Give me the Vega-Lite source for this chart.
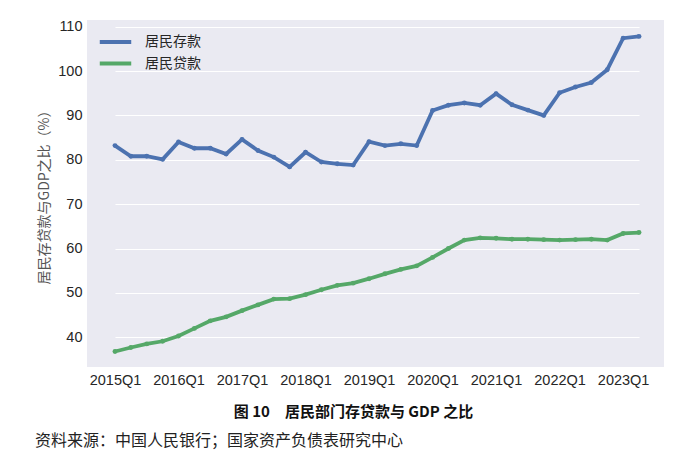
{
  "$schema": "https://vega.github.io/schema/vega-lite/v6.json",
  "width": 577,
  "height": 347,
  "autosize": "none",
  "padding": {"left": 87, "top": 20, "right": 36, "bottom": 104},
  "background": "white",
  "config": {
    "view": {"fill": "#eaeaf2", "stroke": null},
    "font": "Liberation Sans",
    "axis": {"gridColor": "white", "gridWidth": 1.2, "gridOpacity": 1, "domain": false, "ticks": false, "labelFontSize": 14.5, "labelColor": "#262626", "labelFont": "Liberation Sans"}
  },
  "title": {
    "text": "资料来源：中国人民银行；国家资产负债表研究中心",
    "orient": "bottom",
    "anchor": "start",
    "frame": "group",
    "dx": -52,
    "offset": 14,
    "font": "Noto Sans CJK SC",
    "fontSize": 16,
    "fontWeight": "normal",
    "color": "#222222"
  },
  "data": {
    "values": [
      {"q": "2015Q1", "s": "居民存款", "v": 83.2}, {"q": "2015Q2", "s": "居民存款", "v": 80.8}, {"q": "2015Q3", "s": "居民存款", "v": 80.8}, {"q": "2015Q4", "s": "居民存款", "v": 80.1},
      {"q": "2016Q1", "s": "居民存款", "v": 84.0}, {"q": "2016Q2", "s": "居民存款", "v": 82.6}, {"q": "2016Q3", "s": "居民存款", "v": 82.6}, {"q": "2016Q4", "s": "居民存款", "v": 81.3},
      {"q": "2017Q1", "s": "居民存款", "v": 84.6}, {"q": "2017Q2", "s": "居民存款", "v": 82.1}, {"q": "2017Q3", "s": "居民存款", "v": 80.6}, {"q": "2017Q4", "s": "居民存款", "v": 78.4},
      {"q": "2018Q1", "s": "居民存款", "v": 81.7}, {"q": "2018Q2", "s": "居民存款", "v": 79.5}, {"q": "2018Q3", "s": "居民存款", "v": 79.1}, {"q": "2018Q4", "s": "居民存款", "v": 78.8},
      {"q": "2019Q1", "s": "居民存款", "v": 84.1}, {"q": "2019Q2", "s": "居民存款", "v": 83.2}, {"q": "2019Q3", "s": "居民存款", "v": 83.6}, {"q": "2019Q4", "s": "居民存款", "v": 83.2},
      {"q": "2020Q1", "s": "居民存款", "v": 91.1}, {"q": "2020Q2", "s": "居民存款", "v": 92.3}, {"q": "2020Q3", "s": "居民存款", "v": 92.8}, {"q": "2020Q4", "s": "居民存款", "v": 92.3},
      {"q": "2021Q1", "s": "居民存款", "v": 94.9}, {"q": "2021Q2", "s": "居民存款", "v": 92.4}, {"q": "2021Q3", "s": "居民存款", "v": 91.2}, {"q": "2021Q4", "s": "居民存款", "v": 90.0},
      {"q": "2022Q1", "s": "居民存款", "v": 95.1}, {"q": "2022Q2", "s": "居民存款", "v": 96.4}, {"q": "2022Q3", "s": "居民存款", "v": 97.4}, {"q": "2022Q4", "s": "居民存款", "v": 100.3},
      {"q": "2023Q1", "s": "居民存款", "v": 107.4}, {"q": "2023Q2", "s": "居民存款", "v": 107.8},
      {"q": "2015Q1", "s": "居民贷款", "v": 36.8}, {"q": "2015Q2", "s": "居民贷款", "v": 37.7}, {"q": "2015Q3", "s": "居民贷款", "v": 38.5}, {"q": "2015Q4", "s": "居民贷款", "v": 39.1},
      {"q": "2016Q1", "s": "居民贷款", "v": 40.3}, {"q": "2016Q2", "s": "居民贷款", "v": 42.0}, {"q": "2016Q3", "s": "居民贷款", "v": 43.7}, {"q": "2016Q4", "s": "居民贷款", "v": 44.6},
      {"q": "2017Q1", "s": "居民贷款", "v": 46.0}, {"q": "2017Q2", "s": "居民贷款", "v": 47.3}, {"q": "2017Q3", "s": "居民贷款", "v": 48.6}, {"q": "2017Q4", "s": "居民贷款", "v": 48.7},
      {"q": "2018Q1", "s": "居民贷款", "v": 49.6}, {"q": "2018Q2", "s": "居民贷款", "v": 50.7}, {"q": "2018Q3", "s": "居民贷款", "v": 51.7}, {"q": "2018Q4", "s": "居民贷款", "v": 52.2},
      {"q": "2019Q1", "s": "居民贷款", "v": 53.2}, {"q": "2019Q2", "s": "居民贷款", "v": 54.3}, {"q": "2019Q3", "s": "居民贷款", "v": 55.3}, {"q": "2019Q4", "s": "居民贷款", "v": 56.1},
      {"q": "2020Q1", "s": "居民贷款", "v": 58.0}, {"q": "2020Q2", "s": "居民贷款", "v": 60.0}, {"q": "2020Q3", "s": "居民贷款", "v": 61.9}, {"q": "2020Q4", "s": "居民贷款", "v": 62.4},
      {"q": "2021Q1", "s": "居民贷款", "v": 62.3}, {"q": "2021Q2", "s": "居民贷款", "v": 62.1}, {"q": "2021Q3", "s": "居民贷款", "v": 62.1}, {"q": "2021Q4", "s": "居民贷款", "v": 62.0},
      {"q": "2022Q1", "s": "居民贷款", "v": 61.9}, {"q": "2022Q2", "s": "居民贷款", "v": 62.0}, {"q": "2022Q3", "s": "居民贷款", "v": 62.1}, {"q": "2022Q4", "s": "居民贷款", "v": 61.9},
      {"q": "2023Q1", "s": "居民贷款", "v": 63.4}, {"q": "2023Q2", "s": "居民贷款", "v": 63.6}
    ]
  },
  "mark": {"type": "line", "strokeWidth": 3.8, "point": {"filled": true, "size": 24}},
  "encoding": {
    "x": {
      "field": "q",
      "type": "ordinal",
      "sort": null,
      "scale": {"type": "point", "padding": 0, "range": [28, 552]},
      "axis": {
        "values": ["2015Q1", "2016Q1", "2017Q1", "2018Q1", "2019Q1", "2020Q1", "2021Q1", "2022Q1", "2023Q1"],
        "labelAngle": 0,
        "labelPadding": 6,
        "title": "图 10\u3000居民部门存贷款与 GDP 之比",
        "titleFont": "Noto Sans CJK SC",
        "titleFontSize": 15,
        "titleFontWeight": "bold",
        "titleColor": "#111111",
        "titleX": 266,
        "titleY": 44,
        "titleAlign": "center",
        "titleBaseline": "middle"
      }
    },
    "y": {
      "field": "v",
      "type": "quantitative",
      "scale": {"domain": [33.3, 111.5], "nice": false, "zero": false},
      "axis": {
        "values": [40, 50, 60, 70, 80, 90, 100, 110],
        "labelPadding": 5,
        "title": "居民存贷款与GDP之比（%）",
        "titleFont": "Noto Sans CJK SC",
        "titleFontSize": 14,
        "titleFontWeight": "normal",
        "titleColor": "#555555",
        "titlePadding": 6
      }
    },
    "color": {
      "field": "s",
      "type": "nominal",
      "scale": {"domain": ["居民存款", "居民贷款"], "range": ["#4c72b0", "#55a868"]},
      "legend": {
        "title": null,
        "orient": "none",
        "legendX": 21,
        "legendY": 14.5,
        "symbolType": "M-3,0H3",
        "symbolSize": 110,
        "symbolStrokeWidth": 3.8,
        "rowPadding": 4.5,
        "labelFont": "Noto Sans CJK SC",
        "labelFontSize": 14,
        "labelColor": "#262626",
        "labelOffset": 22
      }
    }
  }
}
